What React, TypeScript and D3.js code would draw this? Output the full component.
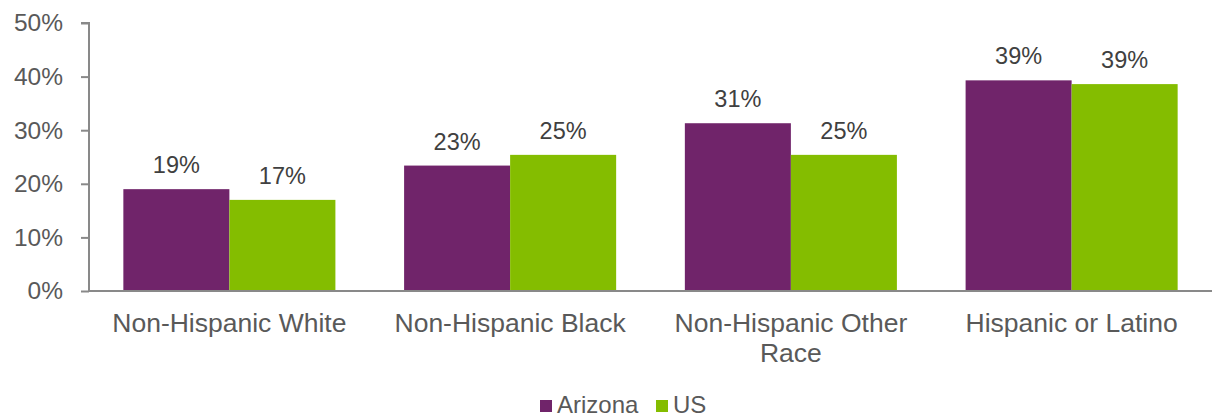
import React, { useEffect, useRef } from 'react';
import * as d3 from 'd3';

const categories = ['Non-Hispanic White', 'Non-Hispanic Black', 'Non-Hispanic Other Race', 'Hispanic or Latino'];
const categoryLines = [['Non-Hispanic White'], ['Non-Hispanic Black'], ['Non-Hispanic Other', 'Race'], ['Hispanic or Latino']];
const seriesNames = ['Arizona', 'US'];
const arizonaValues = [19.0, 23.4, 31.3, 39.3];
const usValues = [17.0, 25.4, 25.4, 38.6];
const yTicks = [0, 10, 20, 30, 40, 50];
const colors = ['#70246a', '#84bd00'];

export default function App() {
  const svgRef = useRef<SVGSVGElement>(null);

  useEffect(() => {
    const width = 1212;
    const height = 418;
    const margin = { top: 23, right: 0, bottom: 127, left: 89 };
    const font = '"Liberation Sans", Arial, sans-serif';

    const svg = d3.select(svgRef.current).attr('width', width).attr('height', height);
    svg.selectAll('*').remove();

    const x = d3.scaleBand().domain(categories).range([margin.left, width - margin.right]).paddingInner(0).paddingOuter(0);
    const inner = d3.scaleBand().domain(seriesNames).range([0, x.bandwidth()]).paddingInner(0).paddingOuter(0.324);
    const y = d3.scaleLinear().domain([0, 50]).range([height - margin.bottom, margin.top]);

    // y axis
    const yAxis = svg.append('g').attr('transform', `translate(${margin.left},0)`)
      .call(d3.axisLeft(y).tickValues(yTicks).tickSize(8).tickFormat((d) => `${d}%`));
    yAxis.select('.domain').attr('stroke', '#898989').attr('stroke-width', 2).attr('d', `M-8,${y(50)}H0V${y(0)}`);
    yAxis.selectAll('.tick line').attr('stroke', '#898989').attr('stroke-width', 2);
    yAxis.selectAll('.tick text').attr('x', -26).attr('fill', '#595959')
      .style('font-family', font).style('font-size', '24.5px');

    // bars
    const data = categories.map((c, i) => ({ c, vals: [arizonaValues[i], usValues[i]] }));
    const groups = svg.append('g').selectAll('g').data(data).join('g')
      .attr('transform', (d) => `translate(${x(d.c)},0)`);

    groups.selectAll('rect').data((d) => d.vals.map((v, j) => ({ v, s: seriesNames[j], j })))
      .join('rect')
      .attr('x', (d) => inner(d.s)!)
      .attr('width', inner.bandwidth())
      .attr('y', (d) => y(d.v))
      .attr('height', (d) => y(0) - y(d.v))
      .attr('fill', (d) => colors[d.j]);

    groups.selectAll('text.val').data((d) => d.vals.map((v, j) => ({ v, s: seriesNames[j] })))
      .join('text')
      .attr('class', 'val')
      .attr('x', (d) => inner(d.s)! + inner.bandwidth() / 2)
      .attr('y', (d) => y(d.v) - 16)
      .attr('text-anchor', 'middle')
      .attr('fill', '#404040')
      .style('font-family', font).style('font-size', '23.5px')
      .text((d) => `${Math.round(d.v)}%`);

    // x axis line
    svg.append('line')
      .attr('x1', margin.left).attr('x2', width)
      .attr('y1', y(0)).attr('y2', y(0))
      .attr('stroke', '#898989').attr('stroke-width', 2);

    // category labels
    categories.forEach((c, i) => {
      const cx = x(c)! + x.bandwidth() / 2;
      const t = svg.append('text')
        .attr('x', cx)
        .attr('y', 332)
        .attr('text-anchor', 'middle')
        .attr('fill', '#595959')
        .style('font-family', font).style('font-size', '26.5px');
      categoryLines[i].forEach((line, k) => {
        t.append('tspan').attr('x', cx).attr('dy', k === 0 ? 0 : 30).text(line);
      });
    });

    // legend
    const legend = svg.append('g');
    const legendX = [540, 656];
    seriesNames.forEach((s, i) => {
      legend.append('rect').attr('x', legendX[i]).attr('y', 400).attr('width', 12).attr('height', 12).attr('fill', colors[i]);
      legend.append('text').attr('x', legendX[i] + 17).attr('y', 413).attr('fill', '#595959')
        .style('font-family', font).style('font-size', '24px').text(s);
    });
  }, []);

  return (
    <div style={{ position: 'absolute', left: 0, top: 0 }}>
      <svg ref={svgRef} style={{ display: 'block' }} />
    </div>
  );
}
